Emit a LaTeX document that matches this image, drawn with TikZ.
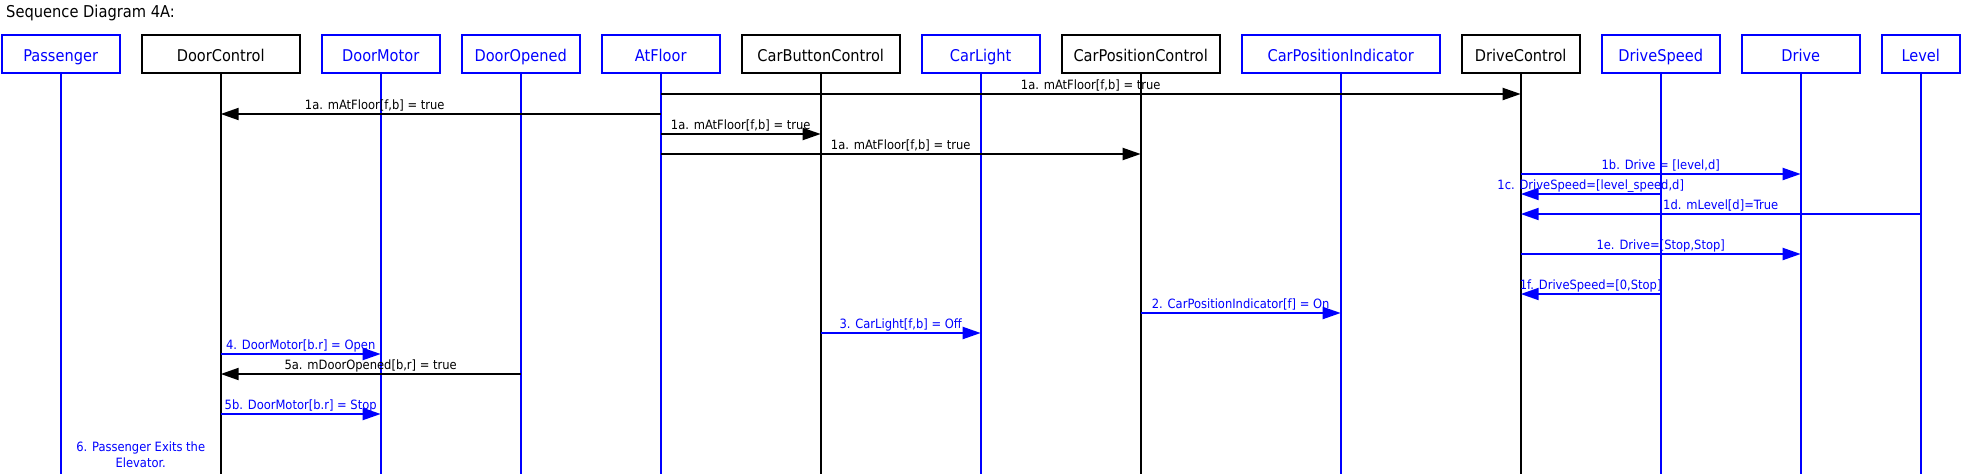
\documentclass[tikz,border=0pt]{standalone}
\usepackage{fontspec}
\setmainfont{DejaVu Sans Condensed}
\usetikzlibrary{positioning,arrows.meta}

\begin{document}
\begin{tikzpicture}[
    x=1pt, y=-1pt,
    all/.style={rectangle, minimum width=118pt, minimum height=38pt, line width=2pt,
        inner sep=0pt, text height=15pt, text depth=0pt, font=\fontsize{16.2}{19}\selectfont},
    ctrl/.style={all, draw=black},
    dev/.style={all, draw=blue, text=blue},
    life/.style={line width=2pt},
    call/.style={line width=2pt, -{Triangle[length=18pt, width=12pt]}},
    txt/.style={font=\fontsize{12.8}{15.5}\selectfont, anchor=base, yshift=5pt, inner sep=0pt},
]
    \useasboundingbox (0,0) rectangle (1962,474);

    \node [anchor=base west, inner sep=0pt, font=\fontsize{16.3}{19}\selectfont] (title) at (6,17.5) {Sequence Diagram 4A:};

    % objects
    \node [dev] (passenger) at (60.7,53.85) {Passenger};
    \node [ctrl, minimum width=158pt, right=20pt of passenger] (doorctl) {DoorControl};
    \node [dev, right=20pt of doorctl] (doormotor) {DoorMotor};
    \node [dev, right=20pt of doormotor] (dooropened) {DoorOpened};
    \node [dev, right=20pt of dooropened] (atfloor) {AtFloor};
    \node [ctrl, minimum width=158pt, right=20pt of atfloor] (carbtnctl) {CarButtonControl};
    \node [dev, right=20pt of carbtnctl] (carlight) {CarLight};
    \node [ctrl, minimum width=158pt, right=20pt of carlight] (carposctl) {CarPositionControl};
    \node [dev, minimum width=198pt, right=20pt of carposctl] (carposind) {CarPositionIndicator};
    \node [ctrl, right=20pt of carposind] (drivectl) {DriveControl};
    \node [dev, right=20pt of drivectl] (drivespeed) {DriveSpeed};
    \node [dev, right=20pt of drivespeed] (drive) {Drive};
    \node [dev, minimum width=78pt, right=20pt of drive] (level) {Level};

    % lifelines
    \foreach \n in {doorctl, carbtnctl, carposctl, drivectl}
        \draw [life] (\n) -- (\n |- 0,474);
    \foreach \n in {passenger, doormotor, dooropened, atfloor, carlight, carposind, drivespeed, drive, level}
        \draw [life, blue] (\n) -- (\n |- 0,474);

    % messages
    \draw [call] (atfloor |- 0,94) -- (drivectl |- 0,94) node [txt, midway] {1a. mAtFloor[f,b] = true};
    \draw [call] (atfloor |- 0,114) -- (doorctl |- 0,114) node [txt, pos=0.65] {1a. mAtFloor[f,b] = true};
    \draw [call] (atfloor |- 0,134) -- (carbtnctl |- 0,134) node [txt, midway] {1a. mAtFloor[f,b] = true};
    \draw [call] (atfloor |- 0,154) -- (carposctl |- 0,154) node [txt, midway] {1a. mAtFloor[f,b] = true};
    \draw [call, blue] (drivectl |- 0,174) -- (drive |- 0,174) node [txt, midway] {1b. Drive = [level,d]};
    \draw [call, blue] (drivespeed |- 0,194) -- (drivectl |- 0,194) node [txt, midway] {1c. DriveSpeed=[level\_speed,d]};
    \draw [call, blue] (level |- 0,214) -- (drivectl |- 0,214) node [txt, midway] {1d. mLevel[d]=True};
    \draw [call, blue] (drivectl |- 0,254) -- (drive |- 0,254) node [txt, midway] {1e. Drive=[Stop,Stop]};
    \draw [call, blue] (drivespeed |- 0,294) -- (drivectl |- 0,294) node [txt, midway] {1f. DriveSpeed=[0,Stop]};
    \draw [call, blue] (carposctl |- 0,313) -- (carposind |- 0,313) node [txt, midway] {2. CarPositionIndicator[f] = On};
    \draw [call, blue] (carbtnctl |- 0,333) -- (carlight |- 0,333) node [txt, midway] {3. CarLight[f,b] = Off};
    \draw [call, blue] (doorctl |- 0,354) -- (doormotor |- 0,354) node [txt, midway] {4. DoorMotor[b.r] = Open};
    \draw [call] (dooropened |- 0,374) -- (doorctl |- 0,374) node [txt, midway] {5a. mDoorOpened[b,r] = true};
    \draw [call, blue] (doorctl |- 0,414) -- (doormotor |- 0,414) node [txt, midway] {5b. DoorMotor[b.r] = Stop};

    \node [blue, align=center, inner sep=0pt, font=\fontsize{12.8}{15.5}\selectfont] (note) at (140.7,454.5) {6. Passenger Exits the\\Elevator.};
\end{tikzpicture}
\end{document}
